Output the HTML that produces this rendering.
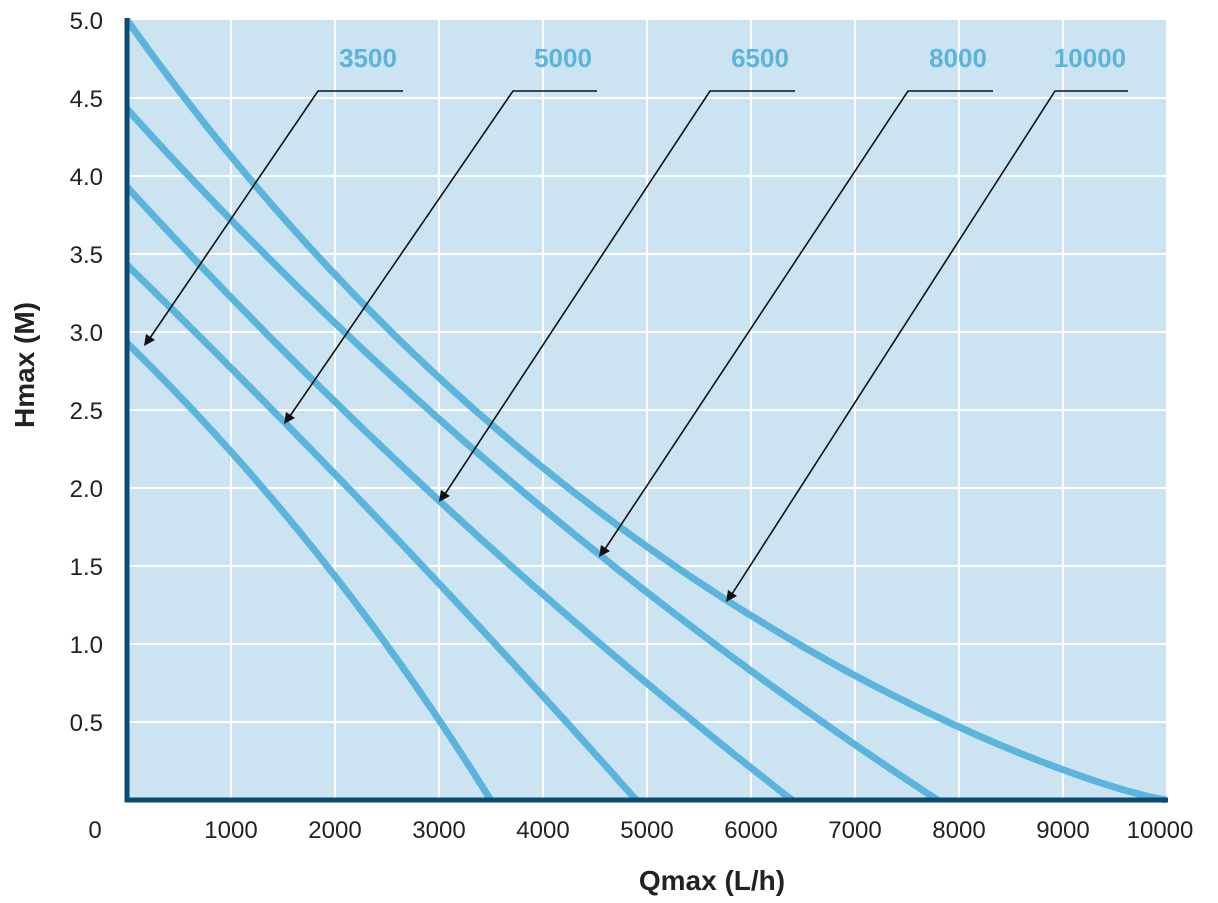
<!DOCTYPE html>
<html><head><meta charset="utf-8"><style>
html,body{margin:0;padding:0;background:#fff;}
svg text{font-family:"Liberation Sans",sans-serif;}
</style></head><body>
<svg id="s" width="1218" height="898" xmlns="http://www.w3.org/2000/svg">
<rect x="127" y="20" width="1039" height="780" fill="#cce4f1"/>
<g stroke="#fff" stroke-width="2">
<line x1="231" y1="20" x2="231" y2="800"/><line x1="335" y1="20" x2="335" y2="800"/>
<line x1="439" y1="20" x2="439" y2="800"/><line x1="543" y1="20" x2="543" y2="800"/>
<line x1="647" y1="20" x2="647" y2="800"/><line x1="751" y1="20" x2="751" y2="800"/>
<line x1="855" y1="20" x2="855" y2="800"/><line x1="959" y1="20" x2="959" y2="800"/>
<line x1="1063" y1="20" x2="1063" y2="800"/>
<line x1="127" y1="98" x2="1166" y2="98"/><line x1="127" y1="176" x2="1166" y2="176"/>
<line x1="127" y1="254" x2="1166" y2="254"/><line x1="127" y1="332" x2="1166" y2="332"/>
<line x1="127" y1="410" x2="1166" y2="410"/><line x1="127" y1="488" x2="1166" y2="488"/>
<line x1="127" y1="566" x2="1166" y2="566"/><line x1="127" y1="644" x2="1166" y2="644"/>
<line x1="127" y1="722" x2="1166" y2="722"/>
</g>
<g id="curves" fill="none" stroke="#5ab4dc" stroke-width="7"></g>
<g stroke="#111" stroke-width="1.6" fill="none">
<polyline points="403,91 318,91 150,338"/>
<polyline points="597,91 513,91 290,416"/>
<polyline points="795,91 710,91 445,494"/>
<polyline points="993,91 908,91 605,549"/>
<polyline points="1128,91 1055,91 732,594"/>
</g>
<g fill="#111">
<polygon points="144,346 146,334 155,340"/>
<polygon points="284,424 286,412 295,418"/>
<polygon points="439,502 441,490 450,496"/>
<polygon points="599,557 601,545 610,551"/>
<polygon points="726,602 728,590 737,596"/>
</g>
<g fill="#5ab4dc" font-weight="bold" font-size="26" text-anchor="middle">
<text x="368" y="67">3500</text><text x="563" y="67">5000</text>
<text x="760" y="67">6500</text><text x="958" y="67">8000</text>
<text x="1090" y="67">10000</text>
</g>
<line x1="127" y1="18" x2="127" y2="802" stroke="#0d4a6e" stroke-width="5"/>
<line x1="125" y1="800" x2="1168" y2="800" stroke="#0d4a6e" stroke-width="5"/>
<g fill="#222" font-size="24" text-anchor="end">
<text x="103" y="29">5.0</text><text x="103" y="107">4.5</text><text x="103" y="185">4.0</text>
<text x="103" y="263">3.5</text><text x="103" y="341">3.0</text><text x="103" y="419">2.5</text>
<text x="103" y="497">2.0</text><text x="103" y="575">1.5</text><text x="103" y="653">1.0</text>
<text x="103" y="731">0.5</text>
</g>
<g fill="#222" font-size="24" text-anchor="middle">
<text x="95" y="838">0</text>
<text x="231" y="838">1000</text><text x="335" y="838">2000</text><text x="439" y="838">3000</text>
<text x="543" y="838">4000</text><text x="647" y="838">5000</text><text x="751" y="838">6000</text>
<text x="855" y="838">7000</text><text x="959" y="838">8000</text><text x="1063" y="838">9000</text>
<text x="1160" y="838">10000</text>
</g>
<text x="712" y="890" text-anchor="middle" font-size="28" font-weight="bold" fill="#222">Qmax (L/h)</text>
<text transform="translate(34,365) rotate(-90)" text-anchor="middle" font-size="28" font-weight="bold" fill="#222">Hmax (M)</text>
</svg>
<script>
var specs=[[2.93,3500,-0.22,1],[3.43,4900,-0.07,1],[3.93,6400,0.185,1],[4.43,7800,0.30,1],[5.0,10000,0.676,1.2]];
var g=document.getElementById('curves');
specs.forEach(function(s){
 var pts=[];
 for(var i=0;i<=120;i++){var t=i/120;var h=s[0]*Math.pow(1-t,s[3])/(1+s[2]*t);
  pts.push((127+t*s[1]*0.1039).toFixed(1)+','+(800-h*156).toFixed(1));}
 var p=document.createElementNS('http://www.w3.org/2000/svg','polyline');
 p.setAttribute('points',pts.join(' '));g.appendChild(p);
});
</script>
</body></html>
